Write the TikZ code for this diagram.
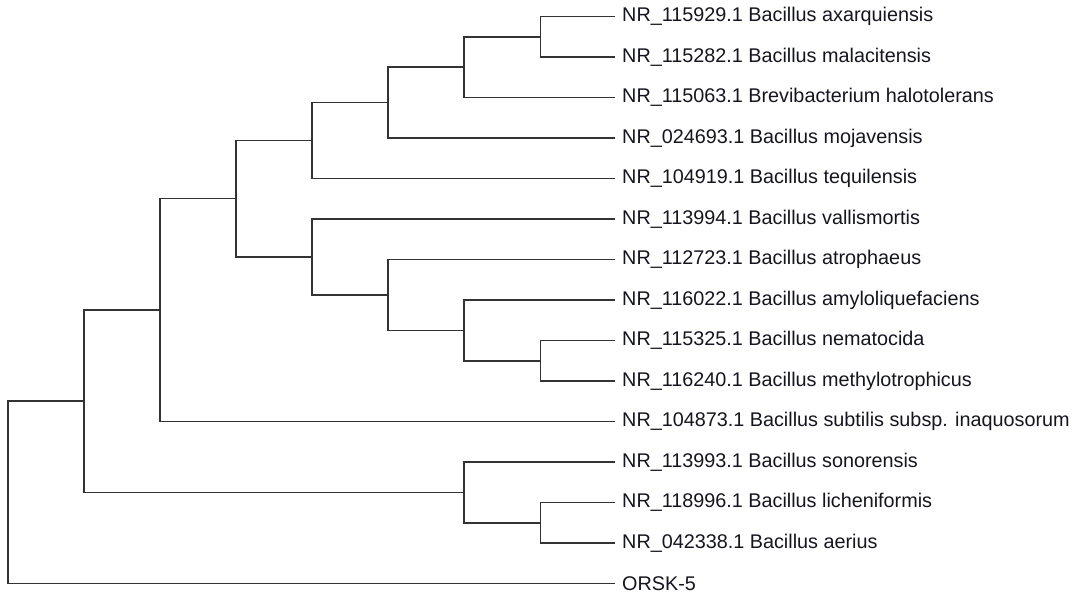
\documentclass[tikz,border=0pt]{standalone}
\usepackage{fontspec}
\setmainfont{Liberation Sans}
\definecolor{branch}{HTML}{333333}
\definecolor{labeltxt}{HTML}{15151F}
\begin{document}
\begin{tikzpicture}[x=1pt,y=-1pt,
  br/.style={draw=branch,line width=1.5pt,line join=miter},
  lab/.style={anchor=west,inner sep=0pt,font=\fontsize{19.8}{20}\selectfont,text=labeltxt}]
\useasboundingbox (0,0) rectangle (1085,595);
% leaves
\coordinate (l1) at (615,16.5);
\coordinate (l2) at (615,57);
\coordinate (l3) at (615,97.5);
\coordinate (l4) at (615,138);
\coordinate (l5) at (615,178.5);
\coordinate (l6) at (615,219);
\coordinate (l7) at (615,259.5);
\coordinate (l8) at (615,300);
\coordinate (l9) at (615,340.5);
\coordinate (l10) at (615,381);
\coordinate (l11) at (615,421.5);
\coordinate (l12) at (615,462);
\coordinate (l13) at (615,502.5);
\coordinate (l14) at (615,543);
\coordinate (l15) at (615,583.5);
\node[lab] (t1) at ([xshift=7pt]l1) {NR\_115929.1 Bacillus axarquiensis};
\node[lab] (t2) at ([xshift=7pt]l2) {NR\_115282.1 Bacillus malacitensis};
\node[lab] (t3) at ([xshift=7pt]l3) {NR\_115063.1 Brevibacterium halotolerans};
\node[lab] (t4) at ([xshift=7pt]l4) {NR\_024693.1 Bacillus mojavensis};
\node[lab] (t5) at ([xshift=7pt]l5) {NR\_104919.1 Bacillus tequilensis};
\node[lab] (t6) at ([xshift=7pt]l6) {NR\_113994.1 Bacillus vallismortis};
\node[lab] (t7) at ([xshift=7pt]l7) {NR\_112723.1 Bacillus atrophaeus};
\node[lab] (t8) at ([xshift=7pt]l8) {NR\_116022.1 Bacillus amyloliquefaciens};
\node[lab] (t9) at ([xshift=7pt]l9) {NR\_115325.1 Bacillus nematocida};
\node[lab] (t10) at ([xshift=7pt]l10) {NR\_116240.1 Bacillus methylotrophicus};
\node[lab] (t11) at ([xshift=7pt]l11) {NR\_104873.1 Bacillus subtilis subsp. inaquosorum};
\node[lab] (t12) at ([xshift=7pt]l12) {NR\_113993.1 Bacillus sonorensis};
\node[lab] (t13) at ([xshift=7pt]l13) {NR\_118996.1 Bacillus licheniformis};
\node[lab] (t14) at ([xshift=7pt]l14) {NR\_042338.1 Bacillus aerius};
\node[lab] (t15) at ([xshift=7pt]l15) {ORSK-5};
% internal nodes
\coordinate (I) at (540.5,36.75);
\coordinate (H) at (464,67.1);
\coordinate (G) at (388,102.6);
\coordinate (E) at (312,140.5);
\coordinate (J) at (540.5,360.75);
\coordinate (K) at (464,330.4);
\coordinate (L) at (388,295);
\coordinate (F) at (312,257);
\coordinate (D) at (236,198.7);
\coordinate (B) at (160,310.1);
\coordinate (M) at (540.5,522.75);
\coordinate (C) at (464,492.4);
\coordinate (A) at (84,401.2);
\coordinate (R) at (8,492.4);
% branches: child -- parent vertical -- child
\newcommand{\clade}[3]{\draw[br] (#2) -- (#1 |- #2) -- (#1 |- #3) -- (#3);}
\clade{I}{l1}{l2}
\clade{H}{I}{l3}
\clade{G}{H}{l4}
\clade{E}{G}{l5}
\clade{J}{l9}{l10}
\clade{K}{l8}{J}
\clade{L}{l7}{K}
\clade{F}{l6}{L}
\clade{D}{E}{F}
\clade{B}{D}{l11}
\clade{M}{l13}{l14}
\clade{C}{l12}{M}
\clade{A}{B}{C}
\clade{R}{A}{l15}
\end{tikzpicture}
\end{document}
